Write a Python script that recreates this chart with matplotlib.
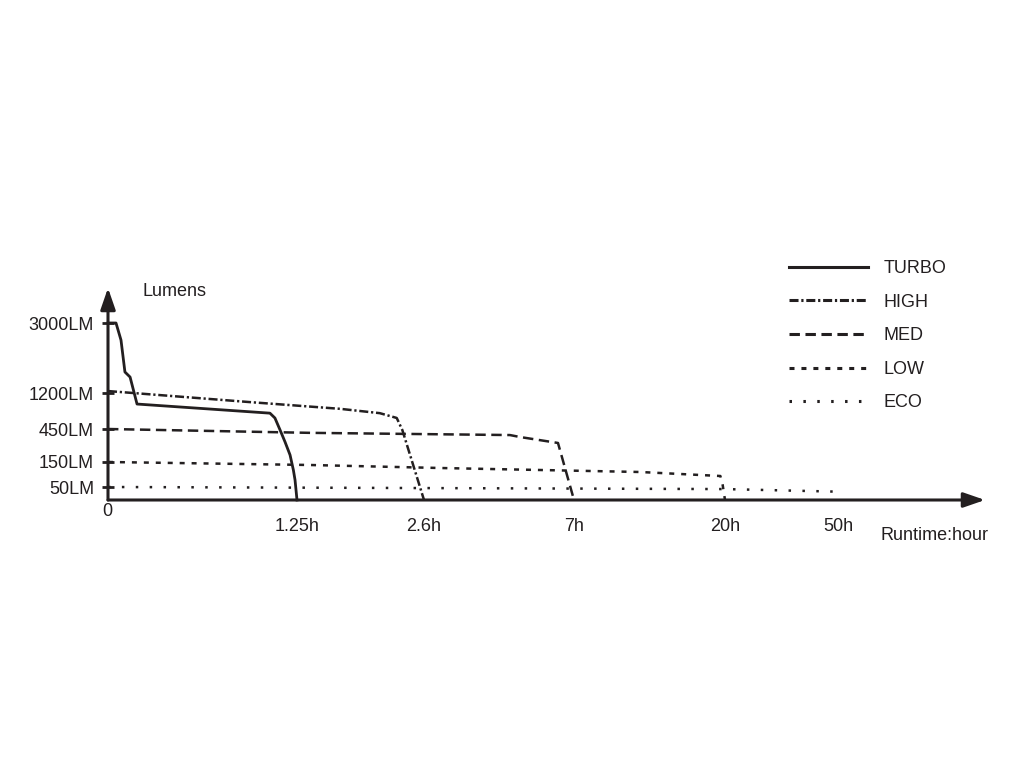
import numpy as np
import matplotlib
matplotlib.use('Agg')
import matplotlib.pyplot as plt

plt.rcParams['font.family'] = ['Liberation Sans', 'DejaVu Sans']
plt.rcParams['lines.scale_dashes'] = False

# runtime (hours) vs output (lumens)
turbo_h = [0, 0.053, 0.086, 0.112, 0.146, 0.192, 1.071, 1.104, 1.138, 1.171, 1.204, 1.226, 1.237, 1.25]
turbo_lm = [3000, 3000, 2560, 1740, 1610, 970, 780, 679, 441, 332, 214, 118, 78, 0]

high_h = [0, 0.94, 1.71, 2.13, 2.31, 2.37, 2.6]
high_lm = [1250, 1010, 870, 780, 680, 440, 0]

med_h = [0, 1.39, 5.12, 5.42, 6.53, 7.0]
med_lm = [450, 415, 395, 377, 323, 0]

low_h = [0, 1.39, 3.07, 12.7, 19.6, 19.8, 20]
low_lm = [150, 138, 126, 110, 94, 58, 0]

eco_h = [0, 20, 50]
eco_lm = [50, 42, 32]

x_ticks = [1.25, 2.6, 7, 20, 50]
x_labels = ['1.25h', '2.6h', '7h', '20h', '50h']
y_ticks = [50, 150, 450, 1200, 3000]
y_labels = ['50LM', '150LM', '450LM', '1200LM', '3000LM']

# non-linear axis scales (piecewise linear between the labelled values)
xk = np.array([0, 1.25, 2.6, 7, 20, 50, 80])
xp = np.array([0, 189, 316, 466, 617, 730, 877], dtype=float)
yk = np.array([0, 50, 150, 450, 1200, 3000, 3900])
yp = np.array([0, 13, 38, 71, 107, 177, 212], dtype=float)


def fx(v):
    return np.interp(v, xk, xp)


def ix(v):
    return np.interp(v, xp, xk)


def fy(v):
    return np.interp(v, yk, yp)


def iy(v):
    return np.interp(v, yp, yk)


ink = '#231f20'
fs = 13

fig = plt.figure(figsize=(10.24, 7.68), dpi=100)
ax = fig.add_axes([108 / 1024, 1 - 500 / 768, 877 / 1024, 212 / 768])
ax.set_xscale('function', functions=(fx, ix))
ax.set_yscale('function', functions=(fy, iy))
ax.set_xlim(0, 80)
ax.set_ylim(0, 3900)

lw = 1.8
ax.plot(turbo_h, turbo_lm, color=ink, lw=2.0, label='TURBO', clip_on=False)
ax.plot(high_h, high_lm, color=ink, lw=lw, dashes=(6.5, 2.0, 1.6, 2.0), label='HIGH', clip_on=False)
ax.plot(med_h, med_lm, color=ink, lw=lw, dashes=(7.5, 4.0), label='MED', clip_on=False)
ax.plot(low_h, low_lm, color=ink, lw=lw, dashes=(3.6, 5.0), label='LOW', clip_on=False)
ax.plot(eco_h, eco_lm, color=ink, lw=lw, dashes=(1.8, 8.2), label='ECO', clip_on=False)

for s in ax.spines.values():
    s.set_visible(False)

# axes with arrow heads
ax.annotate('', xy=(1, 0), xytext=(0, 0), xycoords='axes fraction',
            arrowprops=dict(arrowstyle='-|>,head_length=1.3,head_width=0.45',
                            color=ink, lw=2.2, shrinkA=0, shrinkB=0))
ax.annotate('', xy=(0, 1), xytext=(0, 0), xycoords='axes fraction',
            arrowprops=dict(arrowstyle='-|>,head_length=1.3,head_width=0.45',
                            color=ink, lw=2.2, shrinkA=0, shrinkB=0))

ax.set_yticks(y_ticks)
ax.set_yticklabels(y_labels)
ax.set_xticks(x_ticks)
ax.set_xticklabels(x_labels)
ax.minorticks_off()
ax.tick_params(axis='y', direction='inout', length=8, width=2, color=ink,
               labelsize=fs, pad=6, labelcolor=ink)
ax.tick_params(axis='x', length=0, labelsize=fs, pad=13, labelcolor=ink)

fig.text(107 / 1024, 1 - 511 / 768, '0', ha='center', va='center', fontsize=fs, color=ink)
fig.text(143 / 1024, 1 - 292 / 768, 'Lumens', ha='left', va='center', fontsize=fs, color=ink)
fig.text(934 / 1024, 1 - 535 / 768, 'Runtime:hour', ha='center', va='center', fontsize=fs, color=ink)

leg = fig.legend(loc='upper left', bbox_to_anchor=(789 / 1024, 1 - 260 / 768),
                 frameon=False, fontsize=fs, handlelength=4.4, handletextpad=0.85,
                 labelspacing=0.92, borderpad=0, borderaxespad=0)
for t in leg.get_texts():
    t.set_color(ink)
for h in leg.legend_handles:
    h.set_linewidth(2.2)

fig.savefig('out.png', dpi=100)
